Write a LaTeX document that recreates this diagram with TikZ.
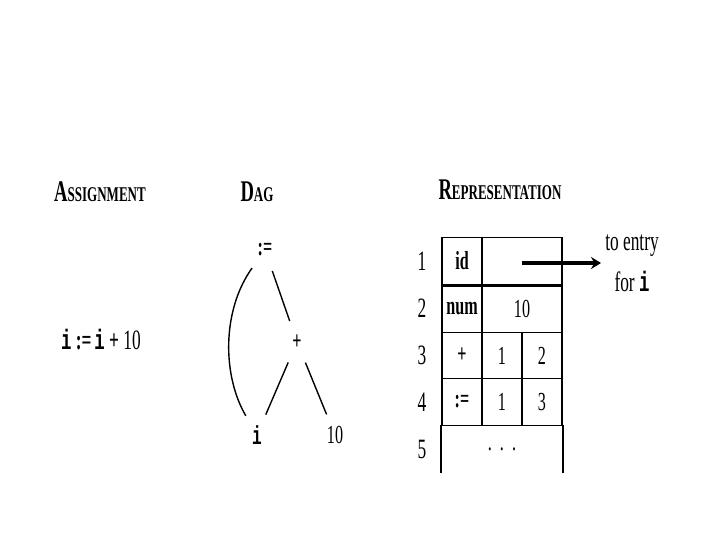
\documentclass[tikz,border=0pt]{standalone}
\usepackage{graphicx}
\usepackage{fontspec}
\setmainfont{Liberation Serif}
\setmonofont{Liberation Mono}
\usetikzlibrary{arrows.meta}
\newcommand\cn[1]{\scalebox{0.62}[1]{#1}}
\newcommand\fsc[2]{#1{\fontsize{21}{24}\selectfont #2}}
\newcommand\vi{{\ttfamily\bfseries i}}
\begin{document}
\begin{tikzpicture}[x=1pt,y=-1pt,
  lbl/.style={inner sep=0pt, font=\fontsize{28}{32}\selectfont},
  head/.style={inner sep=0pt, font=\fontsize{30}{34}\selectfont\bfseries},
  cell/.style={draw, line width=1.8pt, inner sep=0pt, font=\fontsize{26}{30}\selectfont},
  dagnode/.style={circle, minimum size=44pt, inner sep=0pt, font=\fontsize{26}{30}\selectfont},
  edge/.style={line width=1.4pt}]
\useasboundingbox (0,0) rectangle (720,540);
% headings
\node[head] (hA) at (100,192) {\cn{\fsc{A}{SSIGNMENT}}};
\node[head] (hD) at (257,192) {\cn{\fsc{D}{AG}}};
\node[head] (hR) at (500,190) {\cn{\fsc{R}{EPRESENTATION}}};
% assignment
\node[lbl] (expr) at (101,340) {\cn{\vi\ \textbf{:=}\,\vi\ \textbf{+}\ 10}};
% DAG
\node[dagnode] (asg) at (265,250) {\cn{\textbf{:=}}};
\node[dagnode] (plus) at (297,342) {\cn{\textbf{+}}};
\node[dagnode] (vi) at (257,435) {\cn{\vi}};
\node[dagnode] (ten) at (335,435) {\cn{10}};
\draw[edge] (asg) .. controls (222,310) and (222,375) .. (vi);
\draw[edge] (asg) -- (plus);
\draw[edge] (plus) -- (vi);
\draw[edge] (plus) -- (ten);
% table
\node[cell, minimum width=40pt, minimum height=47pt] (c1a) at (462,261) {\cn{\textbf{id}}};
\node[cell, minimum width=80pt, minimum height=47pt] (c1b) at (522,261) {};
\node[cell, minimum width=40pt, minimum height=48pt] (c2a) at (462,308.5) {\cn{\textbf{num}}};
\node[cell, minimum width=80pt, minimum height=48pt] (c2b) at (522,308.5) {\cn{10}};
\node[cell, minimum width=40pt, minimum height=46pt] (c3a) at (462,355.5) {\cn{\textbf{+}}};
\node[cell, minimum width=40pt, minimum height=46pt] (c3b) at (502,355.5) {\cn{1}};
\node[cell, minimum width=40pt, minimum height=46pt] (c3c) at (542,355.5) {\cn{2}};
\node[cell, minimum width=40pt, minimum height=47pt] (c4a) at (462,402) {\cn{\textbf{:=}}};
\node[cell, minimum width=40pt, minimum height=47pt] (c4b) at (502,402) {\cn{1}};
\node[cell, minimum width=40pt, minimum height=47pt] (c4c) at (542,402) {\cn{3}};
\node[cell, draw=none, minimum width=120pt, minimum height=47pt] (c5) at (502,449) {\cn{.\ \ .\ \ .}};
\draw[line width=1.8pt] (c5.north west) -- (c5.south west);
\draw[line width=1.8pt] (c5.north east) -- (c5.south east);
\draw[line width=3.2pt] (c1a.south west) -- (c1b.south east);
% row numbers
\node[lbl] (r1) at (422,261) {\cn{1}};
\node[lbl] (r2) at (422,308.5) {\cn{2}};
\node[lbl] (r3) at (422,355.5) {\cn{3}};
\node[lbl] (r4) at (422,402) {\cn{4}};
\node[lbl] (r5) at (422,449) {\cn{5}};
% pointer
\node[lbl, align=center] (entry) at (632,263) {\cn{to entry}\\[9pt]\cn{for \vi}};
\coordinate (ptr) at (522,263);
\draw[line width=3.5pt, -{Stealth[length=10pt,width=12pt]}, shorten >=4pt] (ptr) -- (entry.west |- ptr);
\end{tikzpicture}
\end{document}
